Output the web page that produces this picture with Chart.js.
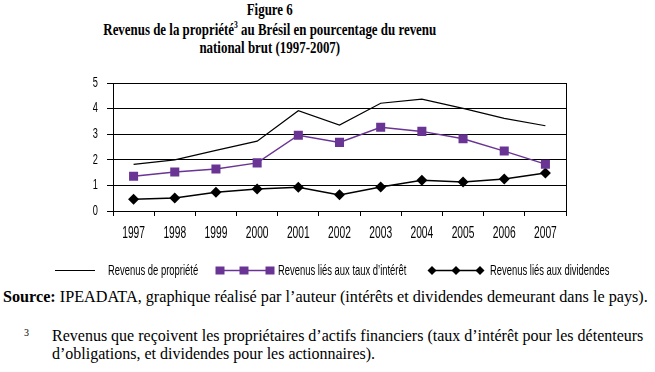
<!DOCTYPE html>
<html>
<head>
<meta charset="utf-8">
<script src="https://cdn.jsdelivr.net/npm/chart.js@4"></script>
<style>
  body { margin: 0; width: 655px; height: 372px; background: #fff; position: relative; overflow: hidden; }
  .t { position: absolute; font-family: "Liberation Serif", "Times New Roman", serif; color: #000; white-space: nowrap; }
  .title { left: 0; width: 540px; text-align: center; font-weight: bold; font-size: 17px; transform: scaleX(0.76); transform-origin: 269px 0; }
  #wrap { position: absolute; left: 0; top: 60px; width: 655px; height: 225px; }
</style>
</head>
<body>
<div class="t title" style="top:0px">Figure 6</div>
<div class="t title" style="top:19px">Revenus de la propriété<sup style="font-size:10px">3</sup> au Brésil en pourcentage du revenu</div>
<div class="t title" style="top:38px">national brut (1997-2007)</div>
<div id="wrap"><canvas id="chart"></canvas></div>
<div class="t" style="left:3px; top:288px; font-size:16.2px"><b>Source:</b> IPEADATA, graphique réalisé par l’auteur (intérêts et dividendes demeurant dans le pays).</div>
<div class="t" style="left:24px; top:327px; font-size:10px">3</div>
<div class="t" style="left:52px; top:327px; font-size:16px">Revenus que reçoivent les propriétaires d’actifs financiers (taux d’intérêt pour les détenteurs</div>
<div class="t" style="left:52px; top:345px; font-size:16px">d’obligations, et dividendes pour les actionnaires).</div>
<script>
const years = ["1997", "1998", "1999", "2000", "2001", "2002", "2003", "2004", "2005", "2006", "2007"];
const revenusPropriete = [1.82, 2.0, 2.37, 2.73, 3.92, 3.36, 4.21, 4.37, 4.01, 3.62, 3.33];
const revenusTaux = [1.36, 1.52, 1.64, 1.88, 2.96, 2.68, 3.27, 3.11, 2.82, 2.34, 1.83];
const revenusDividendes = [0.46, 0.51, 0.73, 0.86, 0.93, 0.63, 0.94, 1.2, 1.13, 1.25, 1.48];
const yTicks = [0, 1, 2, 3, 4, 5];
const seriesNames = ["Revenus de propriété", "Revenus liés aux taux d’intérêt", "Revenus liés aux dividendes"];

const purple = "#6a3494";
const sans = "'Liberation Sans', Arial, sans-serif";

// condensed text: the original uses a narrow sans face, so squeeze Liberation Sans
function narrowText(ctx, text, x, y, size, squeeze, align) {
  ctx.save();
  ctx.font = size + "px " + sans;
  ctx.textBaseline = "middle";
  ctx.textAlign = align;
  ctx.translate(x, y);
  ctx.scale(squeeze, 1);
  ctx.fillText(text, 0, 0);
  ctx.restore();
}

function diamond(ctx, x, y, r) {
  ctx.beginPath();
  ctx.moveTo(x, y - r); ctx.lineTo(x + r, y); ctx.lineTo(x, y + r); ctx.lineTo(x - r, y);
  ctx.closePath(); ctx.fill();
}

// right border, tick labels and hand-made legend
const extras = {
  id: "extras",
  afterDraw(chart) {
    const ctx = chart.ctx;
    const a = chart.chartArea;
    const xs = chart.scales.x, ys = chart.scales.y;
    ctx.save();
    ctx.strokeStyle = "#000";
    ctx.lineWidth = 1;
    ctx.beginPath();
    ctx.moveTo(Math.round(a.right) + 0.5, a.top);
    ctx.lineTo(Math.round(a.right) + 0.5, a.bottom + 5);
    ctx.stroke();

    ctx.fillStyle = "#000";
    years.forEach((yr, i) => narrowText(ctx, yr, xs.getPixelForValue(i), a.bottom + 23, 16, 0.64, "center"));
    yTicks.forEach(v => narrowText(ctx, String(v), a.left - 15, ys.getPixelForValue(v), 14, 0.66, "right"));

    const y = 210.5;
    // series 1: plain line
    ctx.beginPath();
    ctx.moveTo(55, y); ctx.lineTo(95, y); ctx.stroke();
    narrowText(ctx, seriesNames[0], 108, y, 14.5, 0.65, "left");
    // series 2: squares
    ctx.strokeStyle = purple; ctx.fillStyle = purple; ctx.lineWidth = 1.5;
    ctx.beginPath(); ctx.moveTo(220, y); ctx.lineTo(270, y); ctx.stroke();
    [220, 244, 270].forEach(x => ctx.fillRect(x - 4.5, y - 4, 9, 8));
    ctx.fillStyle = "#000";
    narrowText(ctx, seriesNames[1], 278, y, 14.5, 0.65, "left");
    // series 3: diamonds
    ctx.strokeStyle = "#000";
    ctx.beginPath(); ctx.moveTo(432, y); ctx.lineTo(480, y); ctx.stroke();
    [432, 456, 480].forEach(x => diamond(ctx, x, y, 4.5));
    narrowText(ctx, seriesNames[2], 490, y, 14.5, 0.65, "left");
    ctx.restore();
  }
};

new Chart(document.getElementById("chart"), {
  type: "line",
  data: {
    labels: years,
    datasets: [
      {
        label: seriesNames[0],
        data: revenusPropriete,
        borderColor: "#000",
        borderWidth: 1.2,
        pointRadius: 0,
        tension: 0
      },
      {
        label: seriesNames[1],
        data: revenusTaux,
        borderColor: purple,
        backgroundColor: purple,
        borderWidth: 1.5,
        pointStyle: "rect",
        pointRadius: 6.4,
        pointBorderWidth: 0,
        tension: 0
      },
      {
        label: seriesNames[2],
        data: revenusDividendes,
        borderColor: "#000",
        backgroundColor: "#000",
        borderWidth: 1.5,
        pointStyle: "rectRot",
        pointRadius: 5.5,
        pointBorderWidth: 0,
        tension: 0
      }
    ]
  },
  options: {
    responsive: true,
    maintainAspectRatio: false,
    animation: false,
    layout: { padding: { left: 0, right: 89, top: 23, bottom: 0 } },
    plugins: { legend: { display: false }, tooltip: { enabled: false } },
    scales: {
      x: {
        offset: true,
        grid: { offset: true, drawOnChartArea: false, drawTicks: true, tickLength: 5, color: "#000" },
        border: { color: "#000", width: 1 },
        ticks: { color: "rgba(0,0,0,0)", font: { size: 14 }, maxRotation: 0 },
        afterFit(s) { s.height = 74; }
      },
      y: {
        min: 0,
        max: 5,
        afterBuildTicks(s) { s.ticks = yTicks.map(v => ({ value: v })); },
        grid: { color: "#000", lineWidth: 1, tickLength: 6 },
        border: { color: "#000", width: 1 },
        ticks: { color: "rgba(0,0,0,0)", font: { size: 13 } },
        afterFit(s) { s.width = 113; }
      }
    }
  },
  plugins: [extras]
});
</script>
</body>
</html>
